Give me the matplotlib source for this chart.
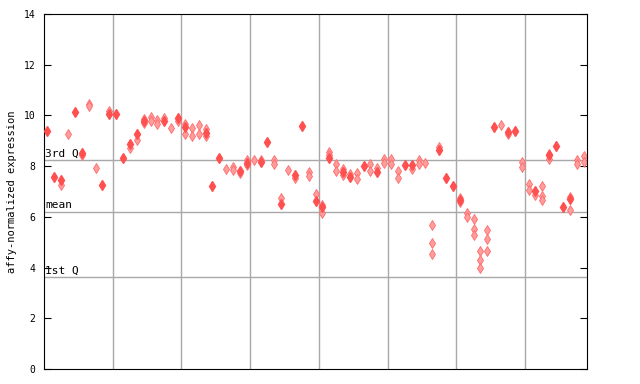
import numpy as np
import matplotlib
matplotlib.use("Agg")
import matplotlib.pyplot as plt

nan = np.nan

# mean value per sample (filled diamonds), nan where there is none
mean_vals = [9.39, 7.57, 7.46, nan, 10.13, 8.53, nan, nan, 7.25, 10.07,
             10.07, 8.31, 8.86, 9.28, 9.78, nan, nan, 9.80, nan, 9.90,
             9.56, nan, nan, 9.31, 7.21, 8.32, nan, nan, 7.81, 8.13,
             nan, 8.18, 8.97, nan, 6.51, nan, 7.67, 9.60, nan, 6.63,
             6.39, 8.31, nan, 7.77, 7.57, nan, 8.02, nan, 7.77, nan,
             nan, nan, 8.06, 8.06, nan, nan, nan, 8.65, 7.55, 7.20,
             6.68, nan, nan, nan, nan, 9.54, nan, 9.34, 9.39, nan,
             nan, 7.02, nan, 8.44, 8.80, 6.37, 6.72, nan, nan]

# replicate values per sample (hatched diamonds)
rep_vals = [[], [], [7.27], [9.26], [], [8.43], [10.45, 10.36], [7.92], [], [10.19],
            [], [], [8.72], [9.05], [9.87, 9.70], [9.95, 9.80], [9.83, 9.68], [9.88], [9.52], [9.80],
            [9.66, 9.26], [9.52, 9.20], [9.64, 9.28], [9.48, 9.19], [], [], [7.88], [7.97, 7.84], [7.71], [8.26, 8.05],
            [8.26], [8.26], [], [8.26, 8.10], [6.76], [7.83], [7.55], [], [7.76, 7.63], [6.89],
            [6.47, 6.16], [8.55, 8.42], [8.07, 7.80], [7.90, 7.67], [7.68], [7.73, 7.51], [], [8.10, 7.81], [7.94], [8.28, 8.13],
            [8.28, 8.07], [7.79, 7.55], [], [7.90], [8.26, 8.10], [8.14], [5.66, 4.95, 4.52], [8.76], [], [],
            [6.75, 6.57], [6.17, 6.00], [5.90, 5.54, 5.27], [4.67, 4.28, 3.97], [5.50, 5.11, 4.67], [], [9.64], [9.25], [], [8.17, 7.96],
            [7.31, 7.05], [6.85], [7.20, 6.84, 6.66], [8.49, 8.30], [], [], [6.79, 6.26], [8.23, 8.10], [8.39, 8.17]]

q3, mean_line, q1 = 8.23, 6.21, 3.61
yticks = [0, 2, 4, 6, 8, 10, 12, 14]

n = len(mean_vals)
x = np.arange(n) + 0.5

fig = plt.figure(figsize=(6.4, 3.84), dpi=100)
ax = fig.add_axes([44 / 640, 15 / 384, 543 / 640, 355 / 384])

for v, lab in [(q3, "3rd Q"), (mean_line, "mean"), (q1, "1st Q")]:
    ax.axhline(v, color="#a8a8a8", lw=1, zorder=1)
    ax.text(0.2, v + 0.05, lab, fontsize=8, family="DejaVu Sans Mono",
            va="bottom", ha="left", zorder=3)
for gx in range(10, n, 10):
    ax.axvline(gx, color="#a8a8a8", lw=1, zorder=1)

rx = [x[i] for i, r in enumerate(rep_vals) for _ in r]
ry = [v for r in rep_vals for v in r]
ax.plot(rx, ry, "d", ms=4.6, color="#ff9c9c", mec="#ff6a6a", mew=0.6, zorder=2)
ax.plot(x, mean_vals, "d", ms=5.2, color="#ff5050", mec="#ff5050", zorder=4)

ax.set_xlim(0, n)
ax.set_ylim(0, 14)
ax.set_yticks(yticks)
ax.set_xticks([])
ax.tick_params(axis="y", direction="in", length=5, right=True, labelsize=7, pad=6)
for lbl in ax.get_yticklabels():
    lbl.set_family("DejaVu Sans Mono")
ax.set_ylabel("affy-normalized expression", fontsize=7.5, family="DejaVu Sans Mono", labelpad=5)

fig.savefig("out.png", dpi=100)
